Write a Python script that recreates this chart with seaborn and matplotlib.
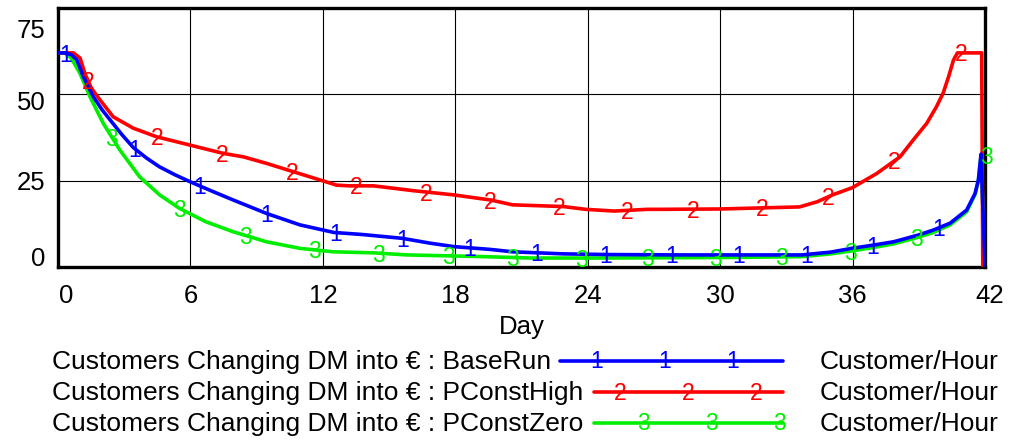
import numpy as np
import pandas as pd
import matplotlib
matplotlib.use("Agg")
import matplotlib.pyplot as plt
import matplotlib.transforms as mtransforms
import seaborn as sns

# ---------------- data ----------------
variable_name = "Customers Changing DM into €"
units = "Customer/Hour"
series_names = ["BaseRun", "PConstHigh", "PConstZero"]
series_ids = ["1", "2", "3"]
series_colors = ["#0000ff", "#ff0000", "#00ee00"]

x_label = "Day"
x_ticks = [0, 6, 12, 18, 24, 30, 36, 42]
y_ticks = [0, 25, 50, 75]

base_t = [0, 0.3, 0.6, 0.85, 1.15, 1.6, 2.0, 2.36, 2.9, 3.41, 4.0, 4.6, 5.3, 5.98, 7.0,
          7.94, 9.45, 10.96, 12.5, 13.8, 15.6, 16.86, 17.94, 19.57, 20.6, 22.9, 25.0,
          28.2, 31.0, 33.7, 35.0, 35.96, 37.0, 37.85, 38.15, 39.0, 39.66, 40.42, 41.17,
          41.55, 41.7, 41.82, 42.0]
base_v = [62, 62, 61.5, 60, 55.1, 49.3, 45.5, 42.6, 38.3, 34.6, 31.6, 29.0, 26.7, 24.7, 21.9,
          19.4, 15.5, 12.2, 10.0, 9.4, 8.3, 6.9, 5.9, 5.1, 4.4, 3.8, 3.6,
          3.5, 3.5, 3.5, 4.3, 5.4, 6.4, 7.3, 7.8, 9.3, 10.7, 12.7, 16.5,
          21.3, 25.2, 32.7, 0]

high_t = [0, 0.3, 0.7, 1.0, 1.22, 1.52, 1.9, 2.5, 3.41, 4.47, 5.98, 7.49, 8.4, 9.45,
          10.66, 11.87, 12.63, 13.2, 14.3, 16.1, 17.9, 19.6, 20.6, 22.9, 23.9, 25.2,
          26.7, 27.3, 30.0, 33.6, 34.4, 35.1, 36.0, 37.1, 38.15, 38.75, 39.36, 39.8,
          40.1, 40.35, 40.57, 40.75, 41.85, 41.9]
high_v = [62, 62, 62, 60.5, 56, 51.7, 48.4, 43.5, 40.2, 37.7, 35.3, 32.9, 31.9, 30,
          27.6, 25.2, 23.7, 23.5, 23.5, 22.1, 20.9, 19.4, 18, 17.5, 16.7, 16.2,
          16.7, 16.7, 16.8, 17.4, 18.9, 20.9, 23, 27.1, 31.9, 36.8, 41.6, 46.4,
          50.3, 55.1, 59.9, 62, 62, 0]

zero_t = [0, 0.3, 0.6, 1.0, 1.45, 2.05, 2.8, 3.7, 4.6, 5.5, 6.7, 7.94, 9.45, 10.96,
          12.47, 14.3, 15.8, 19.3, 21.4, 25.0, 28.2, 31.0, 33.7, 35.0, 36.0, 37.0,
          37.85, 38.75, 39.66, 40.42, 41.17, 41.55, 41.7, 41.82, 42.0]
zero_v = [62, 62, 60.5, 56, 49.3, 41.6, 33.9, 26.1, 20.9, 17, 13.1, 10.2, 7.3, 5.4,
          4.4, 4.1, 3.5, 3.0, 2.6, 2.6, 2.7, 2.8, 3.0, 3.8, 4.7, 5.7,
          6.7, 8.2, 10.0, 12.2, 16.0, 21.0, 25.0, 32.3, 0]

# positions (days) of the numbered markers drawn along each curve
base_marks = [0.36, 3.45, 6.4, 9.45, 12.6, 15.6, 18.65, 21.7, 24.8, 27.8, 30.85, 33.9, 36.9, 39.9]
high_marks = [1.36, 4.5, 7.45, 10.6, 13.5, 16.7, 19.6, 22.7, 25.8, 28.8, 31.9, 34.9, 37.9, 40.9]
zero_marks = [2.44, 5.5, 8.5, 11.6, 14.5, 17.7, 20.6, 23.7, 26.7, 29.8, 32.8, 35.9, 38.9, 41.82]

# ---------------- figure ----------------
sns.set_theme(style="white")
plt.rcParams["font.family"] = ["Liberation Sans", "DejaVu Sans"]
plt.rcParams["text.color"] = "black"
plt.rcParams["axes.labelcolor"] = "black"

W, H = 1011, 441
fig = plt.figure(figsize=(W / 100, H / 100), dpi=100)
ax = fig.add_axes([58 / W, 1 - 267 / H, (985 - 58) / W, (267 - 8) / H])

frames = []
for name, t, v in [(series_names[0], base_t, base_v),
                   (series_names[1], high_t, high_v),
                   (series_names[2], zero_t, zero_v)]:
    frames.append(pd.DataFrame({"Day": t, "value": v, "run": name}))
df = pd.concat(frames, ignore_index=True)

# draw in reverse so series 1 is on top
for i in [2, 1, 0]:
    sub = df[df["run"] == series_names[i]]
    sns.lineplot(data=sub, x="Day", y="value", ax=ax, color=series_colors[i],
                 lw=2.6, estimator=None, sort=False, legend=False, zorder=3 + (2 - i))

marks = [base_marks, high_marks, zero_marks]
curves = [(base_t, base_v), (high_t, high_v), (zero_t, zero_v)]
for i in range(3):
    t, v = curves[i]
    ys = np.interp(marks[i], t, v)
    for mx, my in zip(marks[i], ys):
        dx = 5 if mx > 41.5 else 0
        ax.text(mx, my, series_ids[i], color=series_colors[i], fontsize=16.5,
                ha="center", va="center", zorder=6, clip_on=False,
                transform=mtransforms.offset_copy(ax.transData, fig=fig, x=dx, y=-2, units="dots"))

ax.set_xlim(0, 42)
ax.set_ylim(0, 75)
ax.set_xticks(x_ticks)
ax.set_yticks(y_ticks)
ax.set_xticklabels([str(x) for x in x_ticks], fontsize=18.5)
ax.set_yticklabels([str(y) for y in y_ticks], fontsize=18.5)
ax.tick_params(axis="both", length=0, pad=6, colors="black")
ax.tick_params(axis="x", pad=12)
ax.set_xlabel(x_label, fontsize=18.5, labelpad=5, color="black")
ax.set_ylabel("")

# Vensim-like shifted tick labels
xoffs = {0: 8, 42: 5}
for lab, val in zip(ax.get_xticklabels(), x_ticks):
    dx = xoffs.get(val, 0)
    lab.set_transform(lab.get_transform() + mtransforms.ScaledTranslation(dx / 100, 0, fig.dpi_scale_trans))
yoffs = {0: 11, 25: 0, 50: -6, 75: -21}
for lab, val in zip(ax.get_yticklabels(), y_ticks):
    dy = yoffs.get(val, 0)
    lab.set_transform(lab.get_transform() + mtransforms.ScaledTranslation(-4 / 100, dy / 100, fig.dpi_scale_trans))

ax.grid(True, color="black", lw=0.8)
ax.set_axisbelow(True)
for s in ax.spines.values():
    s.set_color("black")
    s.set_linewidth(2.4)
    s.set_visible(True)

# ---------------- legend (bottom block) ----------------
lg = fig.add_axes([0, 0, 1, 1], facecolor="none")
lg.set_xlim(0, W)
lg.set_ylim(H, 0)
lg.axis("off")
row_y = [361, 392, 423]
line_start = [560, 594, 594]
first_mark = [597, 620, 643]
for i in range(3):
    lg.text(52, row_y[i] + 1, f"{variable_name} : {series_names[i]}", fontsize=19,
            ha="left", va="center", color="black")
    lg.plot([line_start[i], 783], [row_y[i], row_y[i]], color=series_colors[i], lw=2.6)
    for k in range(3):
        lg.text(first_mark[i] + 68 * k, row_y[i] + 1, series_ids[i], color=series_colors[i],
                fontsize=16.5, ha="center", va="center")
    lg.text(820, row_y[i] + 1, units, fontsize=19, ha="left", va="center", color="black")

fig.savefig("out.png", dpi=100)
